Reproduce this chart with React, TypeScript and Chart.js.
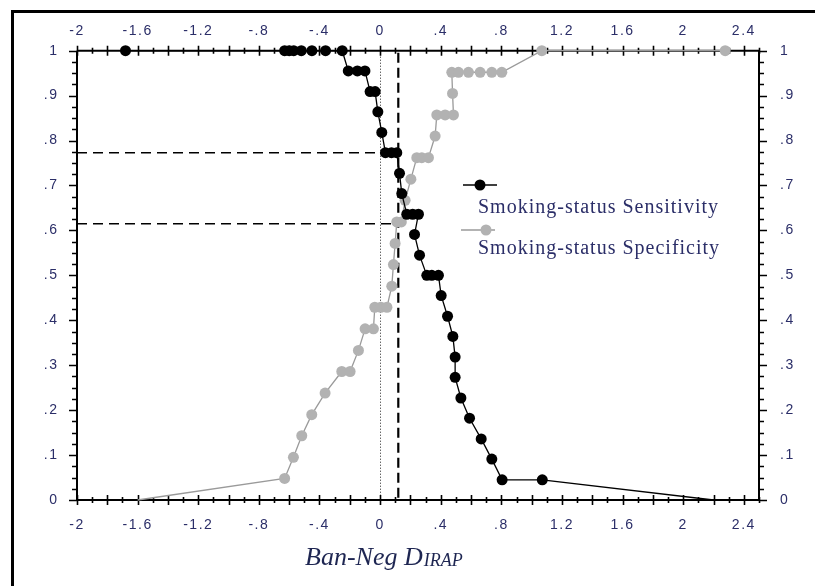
import React, { useEffect, useRef } from 'react';
import { Chart, registerables } from 'chart.js';

Chart.register(...registerables);

// ---- data ----
const sensX = [-1.68, -0.63, -0.6, -0.57, -0.52, -0.45, -0.36, -0.25, -0.21, -0.15, -0.1, -0.066, -0.033, -0.015, 0.011, 0.035, 0.075, 0.11, 0.128, 0.143, 0.176, 0.215, 0.253, 0.227, 0.26, 0.308, 0.341, 0.385, 0.403, 0.445, 0.48, 0.495, 0.495, 0.533, 0.59, 0.667, 0.737, 0.805, 1.07, 2.2];
const sensY = [1, 1, 1, 1, 1, 1, 1, 1, 0.955, 0.955, 0.955, 0.909, 0.909, 0.864, 0.818, 0.773, 0.773, 0.773, 0.727, 0.682, 0.636, 0.636, 0.636, 0.591, 0.545, 0.5, 0.5, 0.5, 0.455, 0.409, 0.364, 0.318, 0.273, 0.227, 0.182, 0.136, 0.091, 0.045, 0.045, 0];
const specX = [-1.6, -0.63, -0.572, -0.517, -0.451, -0.363, -0.253, -0.198, -0.143, -0.099, -0.044, -0.035, 0.005, 0.045, 0.077, 0.088, 0.099, 0.11, 0.14, 0.165, 0.203, 0.242, 0.275, 0.319, 0.363, 0.374, 0.429, 0.484, 0.478, 0.473, 0.517, 0.583, 0.66, 0.737, 0.803, 1.067, 2.277];
const specY = [0, 0.048, 0.095, 0.143, 0.19, 0.238, 0.286, 0.286, 0.333, 0.381, 0.381, 0.429, 0.429, 0.429, 0.476, 0.524, 0.571, 0.619, 0.619, 0.667, 0.714, 0.762, 0.762, 0.762, 0.81, 0.857, 0.857, 0.857, 0.905, 0.952, 0.952, 0.952, 0.952, 0.952, 0.952, 1, 1];
const seriesLabels = ['Smoking-status Sensitivity', 'Smoking-status Specificity'];
const xTickValues = [-2, -1.6, -1.2, -0.8, -0.4, 0, 0.4, 0.8, 1.2, 1.6, 2, 2.4];
const yTickValues = [0, 0.1, 0.2, 0.3, 0.4, 0.5, 0.6, 0.7, 0.8, 0.9, 1];
const xRange = [-2, 2.5];
const yRange = [0, 1];
const cutoffDotted = [0];
const cutoffDashed = [0.12];
const hLineY = [0.773, 0.615];
const hLineEnd = [0, 0.11];
const axisTitleMain = 'Ban-Neg D';
const axisTitleSub = 'IRAP';

// ---- styles ----
const TEXT = '#2b2e68';
const BLACK = '#000000';
const GRAY_LINE = '#9a9a9a';
const GRAY_PT = '#b2b2b2';

const fmt = (v: number) => {
  const s = (Math.round(v * 10) / 10).toString();
  return s.replace(/^(-?)0\./, '$1.');
};

const tickFont = { family: '"Liberation Sans", Arial, sans-serif', size: 14 };

const decor = {
  id: 'decor',
  beforeDraw(chart: any) {
    const c = chart.ctx;
    c.save();
    c.fillStyle = '#ffffff';
    c.fillRect(0, 0, chart.width, chart.height);
    c.fillStyle = '#000';
    c.fillRect(11, 10, chart.width - 11, 3);
    c.fillRect(11, 10, 3, chart.height - 10);
    c.restore();
    c.letterSpacing = '1.5px';
  },
  beforeDatasetsDraw(chart: any) {
    const c = chart.ctx;
    const xs = chart.scales.x;
    const ys = chart.scales.y;
    const { left, right, top, bottom } = chart.chartArea;
    c.save();
    // reference lines
    c.strokeStyle = '#222';
    c.lineWidth = 1;
    c.setLineDash([1, 2]);
    cutoffDotted.forEach((v) => {
      const px = Math.round(xs.getPixelForValue(v)) + 0.5;
      c.beginPath();
      c.moveTo(px, ys.getPixelForValue(yRange[1]));
      c.lineTo(px, ys.getPixelForValue(yRange[0]));
      c.stroke();
    });
    c.strokeStyle = '#000';
    c.lineWidth = 2.2;
    c.setLineDash([10, 5]);
    cutoffDashed.forEach((v) => {
      const px = xs.getPixelForValue(v);
      c.beginPath();
      c.moveTo(px, ys.getPixelForValue(yRange[1]) + 2);
      c.lineTo(px, ys.getPixelForValue(yRange[0]));
      c.stroke();
    });
    c.lineWidth = 1.6;
    c.setLineDash([10, 6]);
    hLineY.forEach((v, i) => {
      const py = ys.getPixelForValue(v);
      c.beginPath();
      c.moveTo(xs.getPixelForValue(xRange[0]), py);
      c.lineTo(xs.getPixelForValue(hLineEnd[i]), py);
      c.stroke();
    });
    c.setLineDash([]);
    // axes lines
    c.strokeStyle = '#000';
    c.lineWidth = 2;
    c.beginPath();
    c.moveTo(left, top); c.lineTo(right, top);
    c.moveTo(left, bottom); c.lineTo(right, bottom);
    c.moveTo(left, top); c.lineTo(left, bottom);
    c.moveTo(right, top); c.lineTo(right, bottom);
    c.stroke();
    // x ticks (top & bottom), crossing
    c.lineWidth = 1.6;
    c.beginPath();
    const nx = Math.round((xRange[1] - xRange[0]) / 0.1);
    for (let i = 0; i <= nx; i++) {
      const v = xRange[0] + i * 0.1;
      const px = Math.round(xs.getPixelForValue(v)) + 0.5;
      const h = i % 2 === 0 ? 5 : 3;
      [top, bottom].forEach((y) => {
        c.moveTo(px, y - h);
        c.lineTo(px, y + h);
      });
    }
    // y ticks outward
    const ny = Math.round((yRange[1] - yRange[0]) / 0.025);
    for (let i = 0; i <= ny; i++) {
      const v = yRange[0] + i * 0.025;
      const py = Math.round(ys.getPixelForValue(v)) + 0.5;
      const w = i % 4 === 0 ? 8 : 5;
      c.moveTo(left - w, py); c.lineTo(left, py);
      c.moveTo(right, py); c.lineTo(right + w, py);
    }
    c.stroke();
    c.restore();
  },
  afterDatasetsDraw(chart: any) {
    const c = chart.ctx;
    c.save();
    // legend
    const items = [
      { line: BLACK, pt: BLACK, lx0: 463, lx1: 497, ly: 185, mx: 480, ty: 213 },
      { line: GRAY_LINE, pt: GRAY_PT, lx0: 461, lx1: 495, ly: 230, mx: 486, ty: 254 },
    ];
    items.forEach((it, i) => {
      c.strokeStyle = it.line;
      c.lineWidth = 1.5;
      c.beginPath();
      c.moveTo(it.lx0, it.ly);
      c.lineTo(it.lx1, it.ly);
      c.stroke();
      c.fillStyle = it.pt;
      c.beginPath();
      c.arc(it.mx, it.ly, 5.5, 0, Math.PI * 2);
      c.fill();
      c.letterSpacing = '1px';
      c.font = '20px "Liberation Serif", "Times New Roman", serif';
      c.fillStyle = TEXT;
      c.textAlign = 'left';
      c.textBaseline = 'alphabetic';
      c.fillText(seriesLabels[i], 478, it.ty);
    });
    // axis title
    c.letterSpacing = '0px';
    c.fillStyle = '#1e2652';
    c.font = 'italic 26px "Liberation Serif", "Times New Roman", serif';
    c.fillText(axisTitleMain, 305, 565);
    const w = c.measureText(axisTitleMain).width;
    c.font = 'italic 18px "Liberation Serif", "Times New Roman", serif';
    c.fillText(axisTitleSub, 305 + w + 1, 566);
    c.restore();
  },
};

export default function App() {
  const ref = useRef<HTMLCanvasElement | null>(null);
  useEffect(() => {
    if (!ref.current) return;
    const xScale = (position: string, h: number, pad: number) => ({
      type: 'linear',
      position,
      min: xRange[0],
      max: xRange[1],
      grid: { display: false, drawTicks: false },
      border: { display: false },
      afterBuildTicks: (s: any) => {
        s.ticks = xTickValues.map((v) => ({ value: v }));
      },
      afterFit: (s: any) => {
        s.height = h;
      },
      ticks: {
        callback: (v: any) => fmt(Number(v)),
        font: tickFont,
        color: TEXT,
        padding: pad,
        maxRotation: 0,
        autoSkip: false,
      },
    });
    const yScale = (position: string, w: number, pad: number) => ({
      type: 'linear',
      position,
      min: yRange[0],
      max: yRange[1],
      grid: { display: false, drawTicks: false },
      border: { display: false },
      afterBuildTicks: (s: any) => {
        s.ticks = yTickValues.map((v) => ({ value: v }));
      },
      afterFit: (s: any) => {
        s.width = w;
      },
      ticks: {
        callback: (v: any) => fmt(Number(v)),
        font: tickFont,
        color: TEXT,
        padding: pad,
        autoSkip: false,
      },
    });
    const radius = (ctx: any) => (ctx.raw && ctx.raw.y === 0 ? 0 : 5.5);
    const chart = new Chart(ref.current, {
      type: 'scatter',
      data: {
        datasets: [
          {
            label: seriesLabels[0],
            data: sensX.map((x, i) => ({ x, y: sensY[i] })),
            showLine: true,
            borderColor: BLACK,
            backgroundColor: BLACK,
            borderWidth: 1.3,
            pointRadius: radius,
            pointBorderWidth: 0,
            clip: false,
            xAxisID: 'x',
            yAxisID: 'y',
          },
          {
            label: seriesLabels[1],
            data: specX.map((x, i) => ({ x, y: specY[i] })),
            showLine: true,
            borderColor: GRAY_LINE,
            backgroundColor: GRAY_PT,
            borderWidth: 1.3,
            pointRadius: radius,
            pointBorderWidth: 0,
            clip: false,
            xAxisID: 'x',
            yAxisID: 'y',
          },
        ],
      },
      options: {
        responsive: false,
        animation: false,
        events: [],
        layout: { padding: 0 },
        plugins: { legend: { display: false }, tooltip: { enabled: false } },
        scales: {
          x: xScale('bottom', 86, 17),
          x2: xScale('top', 50.7, 11.5),
          y: yScale('left', 77, 18.5),
          y2: yScale('right', 56, 21),
        } as any,
      },
      plugins: [decor],
    } as any);
    return () => chart.destroy();
  }, []);
  return (
    <div style={{ position: 'absolute', left: 0, top: 0, width: 815, height: 586 }}>
      <canvas ref={ref} width={815} height={586} />
    </div>
  );
}
